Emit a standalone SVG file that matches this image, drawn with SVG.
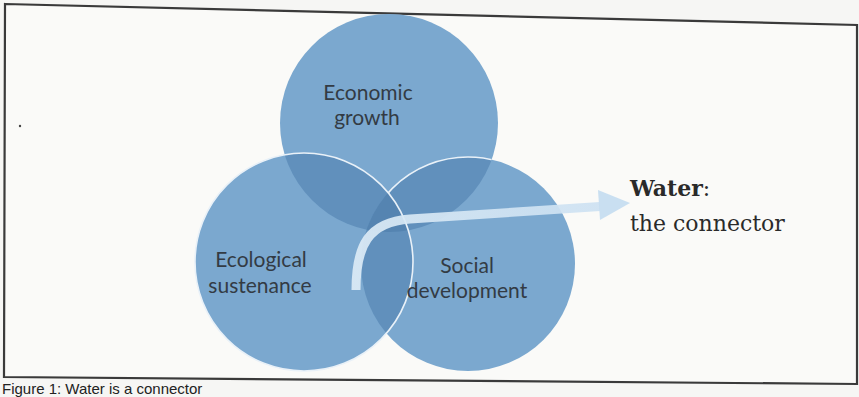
<svg xmlns="http://www.w3.org/2000/svg" width="859" height="397" viewBox="0 0 859 397">
<style>
.lbl{font-family:Lato,"Open Sans","Noto Sans",sans-serif;font-size:21px;fill:#333b44;text-anchor:middle}
.ser{font-family:"DejaVu Serif","Liberation Serif",serif;font-size:22px;fill:#2a2a2a}
.single{fill:#7ba8cf}
.double{fill:#6190bc}
.triple{fill:#5584b1}
.edge{fill:none;stroke:#e9f1f8;stroke-width:1.6}
</style>
<defs>
<clipPath id="cA"><circle cx="389" cy="123" r="109"/></clipPath>
<clipPath id="cB"><circle cx="304" cy="262" r="109"/></clipPath>
<clipPath id="cC"><circle cx="468" cy="264" r="107"/></clipPath>
<mask id="notB"><rect x="0" y="0" width="859" height="397" fill="#fff"/><circle cx="304" cy="262" r="109" fill="#000"/></mask>
<linearGradient id="arrowGrad" x1="0" y1="0" x2="1" y2="0">
<stop offset="0" stop-color="#dcebf6"/>
<stop offset="1" stop-color="#cde1f2"/>
</linearGradient>
</defs>
<rect x="0" y="0" width="859" height="397" fill="#f6f6f4"/>
<polygon points="5,4 857,25 857,384 4,377" fill="#fafaf8" stroke="#3a3a3a" stroke-width="2.2"/>
<circle cx="20" cy="126" r="1.2" fill="#444"/>

<g id="economic-growth">
<circle class="single" cx="389" cy="123" r="109"/>
</g>
<g id="social-development">
<circle class="single" cx="468" cy="264" r="107"/>
</g>
<g id="ecological-sustenance">
<circle class="single" cx="304" cy="262" r="109"/>
</g>
<g id="overlaps">
<circle class="double" cx="389" cy="123" r="109" clip-path="url(#cB)"/>
<circle class="double" cx="389" cy="123" r="109" clip-path="url(#cC)"/>
<circle class="double" cx="304" cy="262" r="109" clip-path="url(#cC)"/>
<g clip-path="url(#cA)"><circle class="triple" cx="304" cy="262" r="109" clip-path="url(#cC)"/></g>
</g>
<g id="edges">
<g clip-path="url(#cA)"><circle class="edge" cx="468" cy="264" r="107" mask="url(#notB)"/></g>
<circle class="edge" cx="304" cy="262" r="109"/>
</g>

<g id="labels">
<text class="lbl" x="368" y="100">Economic</text>
<text class="lbl" x="367" y="125">growth</text>
<text class="lbl" x="261" y="267">Ecological</text>
<text class="lbl" x="260" y="293">sustenance</text>
<text class="lbl" x="467" y="273">Social</text>
<text class="lbl" x="467" y="298">development</text>
</g>

<g id="connectors">
<path d="M356,290 C356,246 368,222 410,219 L600,206.5" fill="none" stroke="url(#arrowGrad)" stroke-width="9" opacity="0.92"/>
<polygon points="598,190 630,203 600,220" fill="#c6ddf0" opacity="0.95"/>
</g>

<g id="water">
<text class="ser" x="630" y="196"><tspan font-weight="bold">Water</tspan>:</text>
<text class="ser" x="630" y="231">the connector</text>
</g>

<text x="2" y="394" font-family="'Liberation Sans',Arial,sans-serif" font-size="15" fill="#222">Figure 1: Water is a connector</text>
</svg>
